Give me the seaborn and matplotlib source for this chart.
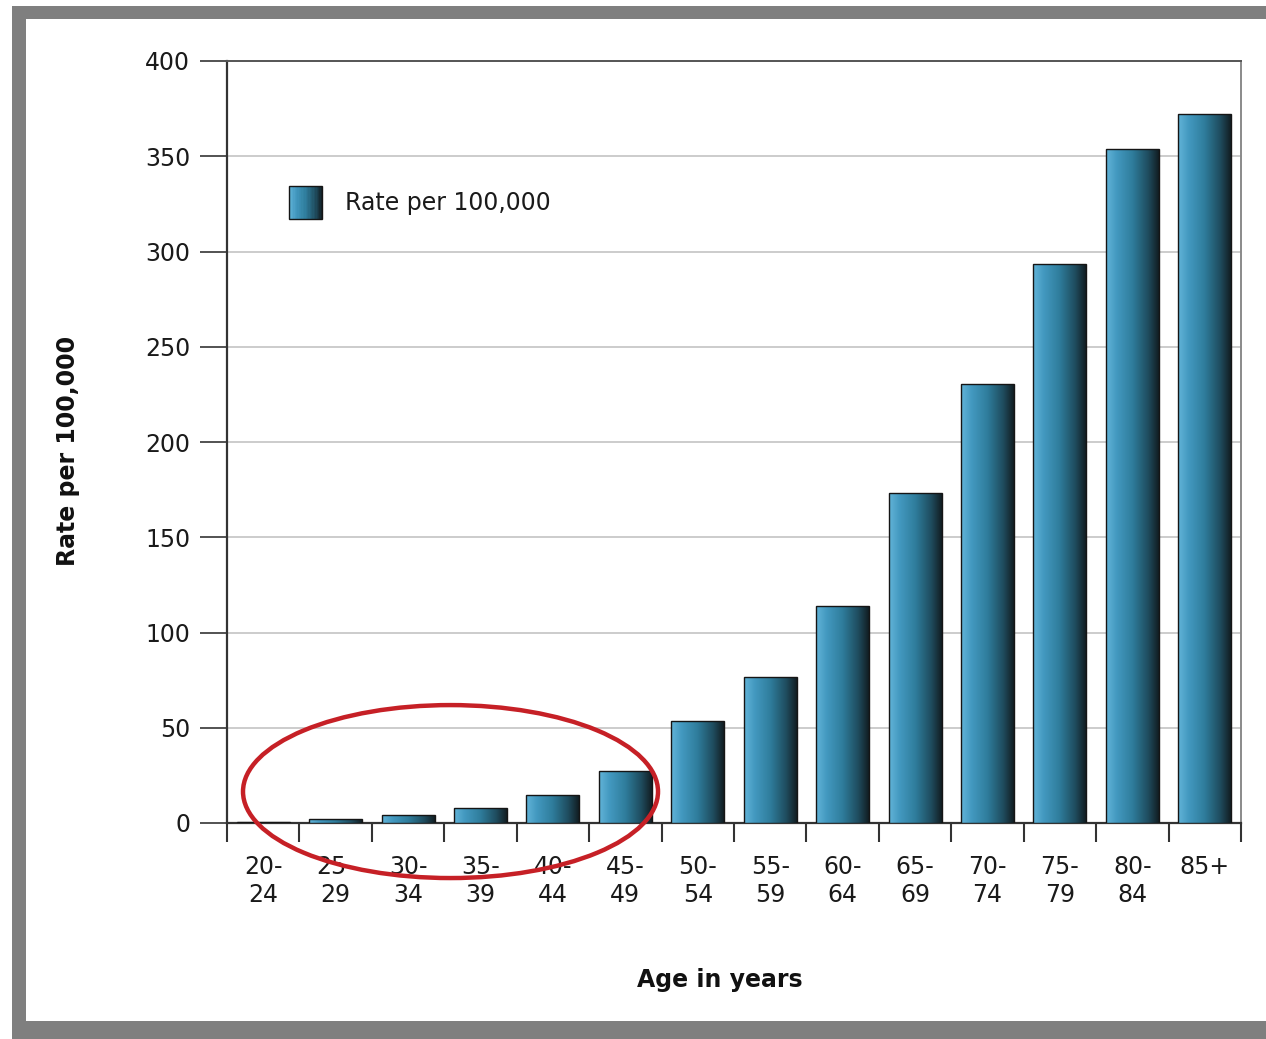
import numpy as np
import pandas as pd
import matplotlib
matplotlib.use("Agg")
import matplotlib.pyplot as plt
import seaborn as sns
from matplotlib.patches import Rectangle, Ellipse
from matplotlib.colors import LinearSegmentedColormap
from matplotlib.legend_handler import HandlerBase

# Incidence rate by age group
age_groups = ["20-\n24", "25-\n29", "30-\n34", "35-\n39", "40-\n44", "45-\n49",
              "50-\n54", "55-\n59", "60-\n64", "65-\n69", "70-\n74", "75-\n79",
              "80-\n84", "85+"]
rates = [0.7, 1.9, 4.2, 7.7, 14.7, 27.5, 53.5, 76.6, 113.9, 173.2, 230.4,
         293.4, 353.8, 372.0]
series_label = "Rate per 100,000"
y_ticks = [0, 50, 100, 150, 200, 250, 300, 350, 400]

sns.set_theme(style="white")
plt.rcParams["font.family"] = ["DejaVu Sans"]

W, H = 1266, 1039
fig = plt.figure(figsize=(W / 100, H / 100), dpi=100)
fig.patch.set_facecolor("white")

# grey picture frame
frame_col = "#7f7f7f"
fig.add_artist(Rectangle((12 / W, 1 - 19 / H), (W - 12) / W, 13 / H,
                         transform=fig.transFigure, color=frame_col, lw=0))
fig.add_artist(Rectangle((12 / W, 0), 14 / W, 1 - 6 / H,
                         transform=fig.transFigure, color=frame_col, lw=0))
fig.add_artist(Rectangle((12 / W, 0), (W - 12) / W, 18 / H,
                         transform=fig.transFigure, color=frame_col, lw=0))

ax = fig.add_axes([227 / W, 1 - 823 / H, (1241 - 227) / W, (823 - 61) / H])

df = pd.DataFrame({"age": age_groups, "rate": rates})
sns.barplot(data=df, x="age", y="rate", color="#2f7e9e", width=0.73,
            ax=ax, zorder=3)

# horizontal shading of each bar: light steel blue to near black
bar_cmap = LinearSegmentedColormap.from_list(
    "steel",
    [(0.0, "#62b4d8"), (0.2, "#4399c0"), (0.5, "#2f7d9c"),
     (0.8, "#1f4c5e"), (1.0, "#121d22")])
grad = np.linspace(0, 1, 256).reshape(1, -1)
for p in list(ax.patches):
    x0, y0, w, h = p.get_x(), p.get_y(), p.get_width(), p.get_height()
    im = ax.imshow(grad, cmap=bar_cmap, extent=[x0, x0 + w, y0, y0 + h],
                   aspect="auto", zorder=3, interpolation="bilinear")
    im.set_clip_path(p)
    p.set_facecolor("none")
    p.set_edgecolor("#151515")
    p.set_linewidth(1.0)
    p.set_zorder(4)

ax.set_xlim(-0.5, len(age_groups) - 0.5)
ax.set_ylim(0, 400)
ax.set_aspect("auto")

# y axis
ax.set_yticks(y_ticks)
ax.set_yticklabels([str(v) for v in y_ticks])
ax.tick_params(axis="y", direction="out", left=True, length=19.5, width=1.3,
               color="#444444", pad=7, labelsize=17, labelcolor="#1a1a1a")
ax.grid(axis="y", color="#c8c8c8", lw=1.3)
ax.set_axisbelow(True)

# x axis: separators at group boundaries, labels centred under bars
ax.set_xticks(np.arange(-0.5, len(age_groups), 1.0))
ax.set_xticklabels([])
ax.set_xticks(np.arange(len(age_groups)), labels=age_groups, minor=True)
ax.tick_params(axis="x", which="major", direction="out", bottom=True,
               length=14, width=1.5, color="#333333")
ax.tick_params(axis="x", which="minor", bottom=True, length=0, pad=23,
               labelsize=17, labelcolor="#1a1a1a")

for name, col, lw in [("left", "#333333", 1.6), ("bottom", "#333333", 1.6),
                      ("top", "#555555", 1.4), ("right", "#8a8a8a", 1.4)]:
    ax.spines[name].set_visible(True)
    ax.spines[name].set_color(col)
    ax.spines[name].set_linewidth(lw)

ax.set_ylabel(series_label, fontsize=17, fontweight="bold", color="#111111",
              va="center")
ax.yaxis.set_label_coords((68 - 227) / 1014, (823 - 451) / 762)
ax.set_xlabel("Age in years", fontsize=17, fontweight="bold", color="#111111",
              va="center")
ax.xaxis.set_label_coords((720 - 227) / 1014, -(980 - 823) / 762)


class GradientHandler(HandlerBase):
    def create_artists(self, legend, orig_handle, xdescent, ydescent,
                       width, height, fontsize, trans):
        n = 24
        arts = []
        for i in range(n):
            arts.append(Rectangle((-xdescent + i * width / n, -ydescent),
                                  width / n + 0.02, height,
                                  facecolor=bar_cmap((i + 0.5) / n),
                                  edgecolor="none", transform=trans))
        arts.append(Rectangle((-xdescent, -ydescent), width, height,
                              facecolor="none", edgecolor="#151515", lw=1.0,
                              transform=trans))
        return arts


key = Rectangle((0, 0), 1, 1)
ax.legend(handles=[key], labels=[series_label], handler_map={key: GradientHandler()},
          loc="upper left", bbox_to_anchor=((289 - 227) / 1014, (823 - 186) / 762),
          frameon=False, fontsize=17, handlelength=1.4, handleheight=1.77,
          handletextpad=0.97, borderpad=0, borderaxespad=0,
          labelcolor="#1a1a1a")

# highlight of the youngest age groups
ax.add_patch(Ellipse((2.586, 16.5), width=5.73, height=90.8, fill=False,
                     edgecolor="#c62026", lw=3.2, zorder=10, clip_on=False))

fig.savefig("out.png", dpi=100, facecolor="white")
